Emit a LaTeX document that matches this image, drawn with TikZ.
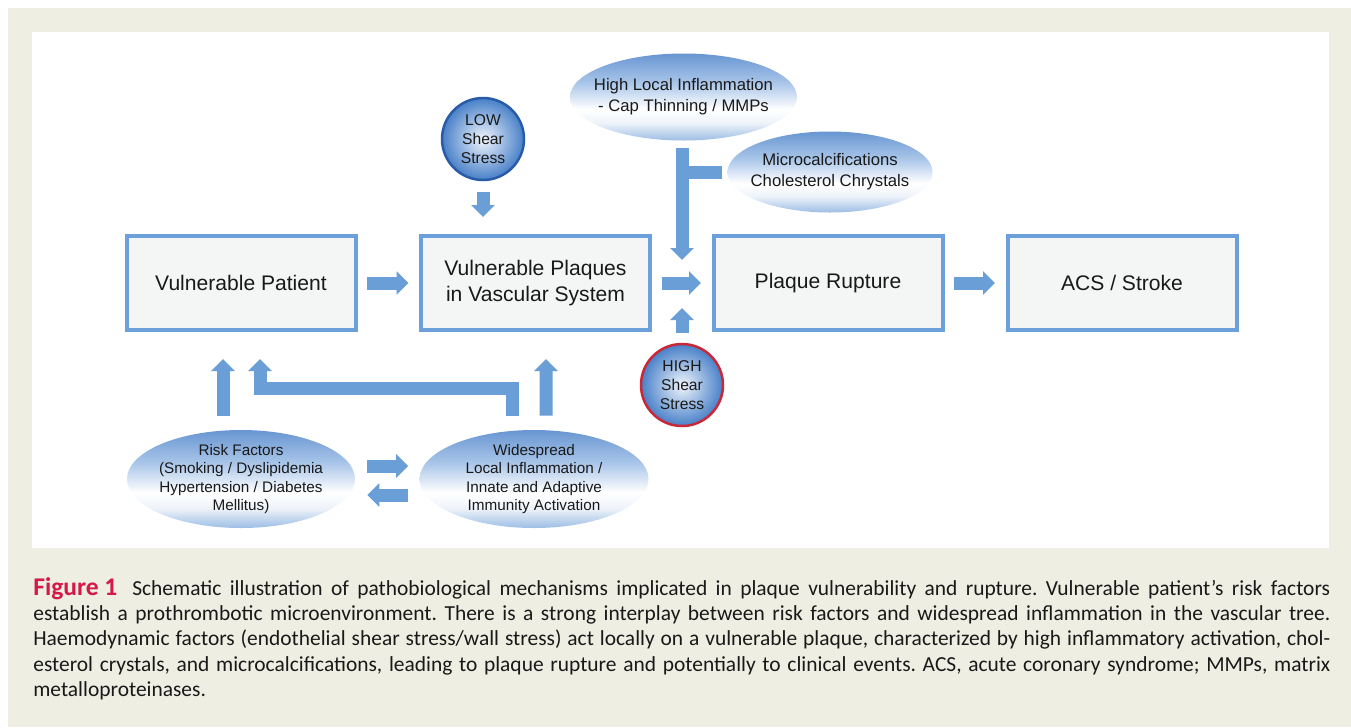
\documentclass[tikz,border=0pt]{standalone}
\usepackage{fontspec}
\setmainfont{Liberation Sans}
\newfontfamily\capfont{Carlito}
\usetikzlibrary{shapes.geometric,arrows.meta}

\definecolor{paper}{RGB}{238,238,226}
\definecolor{boxblue}{RGB}{108,160,218}
\definecolor{boxfill}{RGB}{244,246,246}
\definecolor{flowblue}{RGB}{106,158,215}
\definecolor{ballblue}{RGB}{72,128,200}
\definecolor{ballcore}{RGB}{240,245,252}
\definecolor{cloudtop}{RGB}{104,150,210}
\definecolor{cloudmid}{RGB}{170,198,233}
\definecolor{cloudpale}{RGB}{238,243,250}
\definecolor{cloudbot}{RGB}{156,189,228}
\definecolor{lowrim}{RGB}{40,92,168}
\definecolor{highrim}{RGB}{200,40,55}
\definecolor{figred}{RGB}{212,24,72}
\definecolor{ink}{RGB}{25,25,25}

\pgfdeclareverticalshading{cloudshade}{100bp}{color(0bp)=(cloudbot); color(25bp)=(cloudbot);
  color(35bp)=(cloudpale); color(43bp)=(white); color(58bp)=(cloudmid); color(75bp)=(cloudtop);
  color(100bp)=(cloudtop)}

\tikzset{
  stage/.style={rectangle, draw=boxblue, line width=0.08cm, fill=boxfill,
    minimum width=4.58cm, minimum height=1.88cm, align=center, text=ink,
    font=\fontsize{12}{14.6}\selectfont},
  factor/.style={ellipse, shading=cloudshade, inner sep=-0.4cm, align=center, text=ink,
    font=\fontsize{8.7}{10.4}\selectfont},
  shearball/.style={circle, line width=0.05cm, inner color=ballcore, outer color=ballblue,
    minimum size=1.64cm, inner sep=0pt, align=center, text=ink,
    font=\fontsize{8.9}{11}\selectfont},
  flow/.style={draw=flowblue, line width=0.26cm, -{Triangle[width=0.46cm,length=0.24cm]},
    shorten <=0.19cm, shorten >=0.21cm},
  flowbar/.style={draw=flowblue, line width=0.26cm},
  capline/.style={anchor=base west, inner sep=0pt, text=ink,
    font=\capfont\fontsize{12.2}{14}\selectfont\frenchspacing},
}

\begin{document}
\begin{tikzpicture}
    \useasboundingbox (0,0) rectangle (27.02,-14.54);
    \fill[white] (0,0) rectangle (27.02,-14.54);
    \fill[paper] (0.16,-0.16) rectangle (27.02,-14.54);
    \fill[white] (0.64,-0.64) rectangle (26.58,-10.96);

    % main chain
    \node[stage] (vp) at (4.82,-5.66) {Vulnerable Patient};
    \node[stage] (vpl) at (10.71,-5.66) {Vulnerable Plaques\\in Vascular System};
    \node[stage] (pr) at (16.56,-5.66) {Plaque Rupture};
    \node[stage] (acs) at (22.44,-5.66) {ACS / Stroke};

    % local factors
    \node[shearball, draw=lowrim] (low) at (9.66,-2.78) {LOW\\Shear\\Stress};
    \node[shearball, draw=highrim] (high) at (13.64,-7.70) {HIGH\\Shear\\Stress};
    \node[factor, minimum width=4.54cm, minimum height=1.74cm,
      font=\fontsize{9.5}{11.8}\selectfont] (hli) at (13.67,-1.94)
      {High Local Inflammation\\- Cap Thinning / MMPs};
    \node[factor, minimum width=4.10cm, minimum height=1.62cm,
      font=\fontsize{9.5}{11.8}\selectfont] (micro) at (16.60,-3.44)
      {Microcalcifications\\Cholesterol Chrystals};
    \coordinate (join) at (13.64,-5.70);

    % systemic factors
    \node[factor, minimum width=4.56cm, minimum height=1.96cm] (risk) at (4.82,-9.58)
      {Risk Factors\\(Smoking / Dyslipidemia\\Hypertension / Diabetes\\Mellitus)};
    \node[factor, minimum width=4.58cm, minimum height=1.96cm] (wide) at (10.68,-9.58)
      {Widespread\\Local Inflammation /\\Innate and Adaptive\\Immunity Activation};

    \draw[flow] (vp) -- (vpl);
    \draw[flow] (vpl) -- (pr);
    \draw[flow] (pr) -- (acs);
    \draw[flow, shorten <=0.22cm, shorten >=0.34cm] (low) -- (low |- vpl.north);
    \draw[flow, shorten <=0.15cm, shorten >=0.5cm] (hli.south -| join) -- (join);
    \draw[flowbar, shorten <=0.11cm] (micro) -- (micro -| join);
    \draw[flow, shorten <=0.2cm, shorten >=0.46cm] (high) -- (join);
    \draw[flow, shorten <=0.28cm, shorten >=0.54cm] ([xshift=-0.36cm]risk.north) -- ([xshift=-0.36cm]vp.south);
    \draw[flow, shorten <=0.28cm, shorten >=0.54cm] ([xshift=0.24cm]wide.north) -- ([xshift=0.21cm]vpl.south);
    \draw[flow, shorten <=0.28cm, shorten >=0.54cm] ([xshift=-0.44cm]wide.north) -- ++(0,0.82) -| ([xshift=0.38cm]vp.south);
    \draw[flow, shorten <=0.24cm, shorten >=0.22cm] ([yshift=0.26cm]risk.east) -- ([yshift=0.26cm]wide.west);
    \draw[flow, shorten <=0.22cm, shorten >=0.24cm] ([yshift=-0.32cm]wide.west) -- ([yshift=-0.32cm]risk.east);

    % caption
    \node[capline] (cap1) at (0.66,-11.90) {\makebox[25.94cm][s]{\mbox{\color{figred}\bfseries\fontsize{14.5}{14}\selectfont Figure 1}\hspace{0.3cm}Schematic illustration of pathobiological mechanisms implicated in plaque vulnerability and rupture. Vulnerable patient’s risk factors}};
    \node[capline] (cap2) at (0.66,-12.40) {\makebox[25.94cm][s]{establish a prothrombotic microenvironment. There is a strong interplay between risk factors and widespread inflammation in the vascular tree.}};
    \node[capline] (cap3) at (0.66,-12.90) {\makebox[25.94cm][s]{Haemodynamic factors (endothelial shear stress/wall stress) act locally on a vulnerable plaque, characterized by high inflammatory activation, chol-}};
    \node[capline] (cap4) at (0.66,-13.42) {\makebox[25.94cm][s]{esterol crystals, and microcalcifications, leading to plaque rupture and potentially to clinical events. ACS, acute coronary syndrome; MMPs, matrix}};
    \node[capline] (cap5) at (0.66,-13.92) {metalloproteinases.};
\end{tikzpicture}
\end{document}
